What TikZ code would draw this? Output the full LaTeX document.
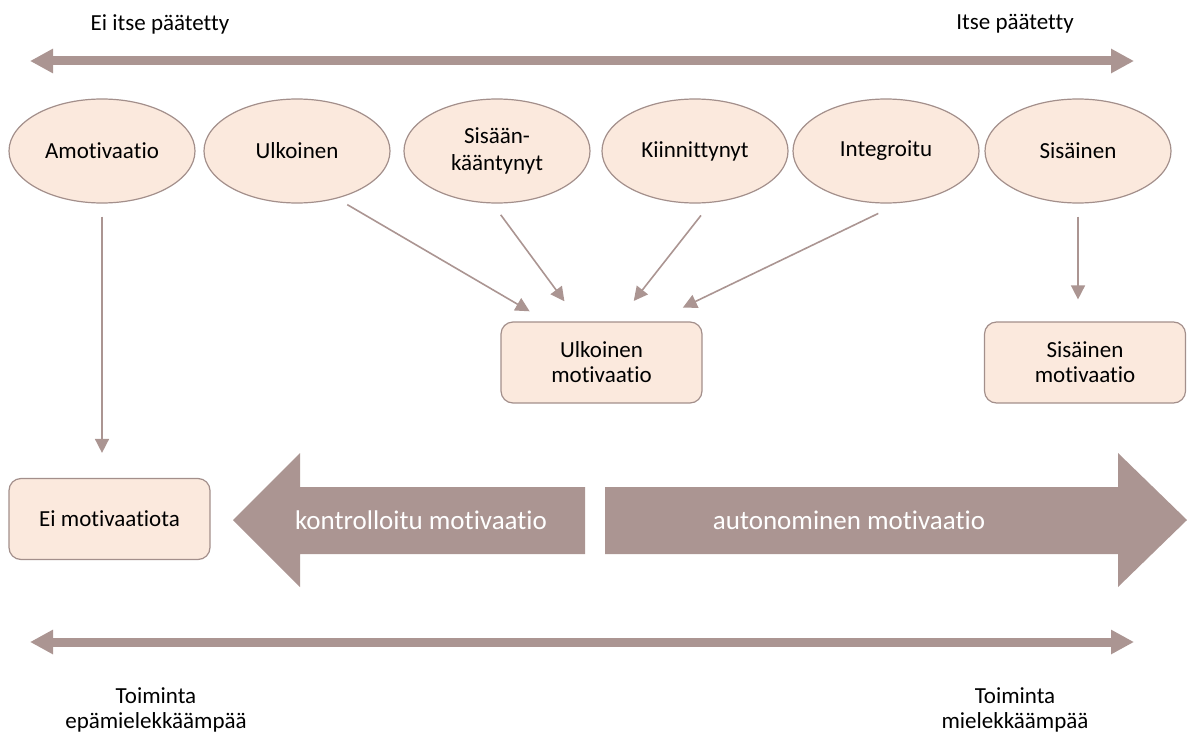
\documentclass[tikz,border=0pt]{standalone}
\usepackage{fontspec}
\setmainfont{Carlito}[RawFeature={-liga;-clig}]
\definecolor{ArrowMauve}{RGB}{171,149,146}
\definecolor{NodePeach} {RGB}{251,233,221}
\definecolor{NodeEdge}  {RGB}{163,143,139}
\usetikzlibrary{arrows.meta,positioning,calc,shapes.geometric}

\begin{document}
\begin{tikzpicture}[x=0.5pt,y=-0.5pt,
    stage/.style={ellipse,draw=NodeEdge,fill=NodePeach,line width=0.6pt,
      minimum width=93pt,minimum height=52pt,inner sep=0pt,align=center,
      font=\fontsize{11.5}{13.5}\selectfont},
    result/.style={rectangle,rounded corners=6pt,draw=NodeEdge,fill=NodePeach,
      line width=0.6pt,minimum width=100.5pt,minimum height=40.5pt,
      align=center,font=\fontsize{11.5}{12.5}\selectfont},
    link/.style={-{Triangle[length=7pt,width=7pt]},ArrowMauve,line width=0.8pt},
    scalearrow/.style={{Triangle[length=11.5pt,width=11.5pt]}-{Triangle[length=11.5pt,width=11.5pt]},
      ArrowMauve,line width=4.5pt},
    endtext/.style={align=center,font=\fontsize{11.5}{12.5}\selectfont},
    bigtext/.style={text=white,font=\fontsize{13.5}{15}\selectfont}]
  \useasboundingbox (0,0) rectangle (1187,738);
  %% Top scale
  \node[endtext] (notself) at (160,24) {Ei itse päätetty};
  \node[endtext] (self) at (1015,24) {Itse päätetty};
  \coordinate (top-l) at (30,61);
  \coordinate (top-r) at (1134,61);
  \draw[scalearrow] (top-l) -- (top-r);
  %% Regulation types
  \node[stage] (amo) at (102,151) {Amotivaatio};
  \node[stage] (ulk) at (297,151) {Ulkoinen};
  \node[stage] (sis) at (497,151) {Sisään-\\kääntynyt};
  \node[stage] (kii) at (695,151) {Kiinnittynyt};
  \node[stage] (int) at (886,151) {Integroitu};
  \node[stage] (sisa) at (1078,151) {Sisäinen};
  %% Motivation boxes
  \node[result] (ulkmot) at (601.5,362.5) {Ulkoinen\\motivaatio};
  \node[result] (sismot) at (1085,362.5) {Sisäinen\\motivaatio};
  \node[result] (eimot) at (109.5,519) {Ei motivaatiota};
  %% Connectors
  \draw[link,shorten <=6.5pt,shorten >=12.5pt] (amo.south) -- (amo.south |- eimot.north);
  \draw[link,shorten <=6pt,shorten >=10pt] (ulk.-50)
       -- ($(ulkmot.north west)!0.23!(ulkmot.north east)$);
  \draw[link,shorten <=7pt,shorten >=12.5pt] (sis.-95)
       -- ($(ulkmot.north west)!0.39!(ulkmot.north east)$);
  \draw[link,shorten <=8pt,shorten >=13pt] (kii.-73)
       -- ($(ulkmot.north west)!0.58!(ulkmot.north east)$);
  \draw[link,shorten <=12pt,shorten >=16pt] (int.-75)
       -- ($(ulkmot.north west)!0.76!(ulkmot.north east)$);
  \draw[link,shorten <=6.5pt,shorten >=11pt] (sisa.south) -- (sisa.south |- sismot.north);
  %% Block arrows
  \fill[ArrowMauve] (585,487) -- (300,487) -- (300,453) -- (233,520)
       -- (300,587) -- (300,554) -- (585,554) -- cycle;
  \fill[ArrowMauve] (605,487) -- (1118,487) -- (1118,453) -- (1187,520)
       -- (1118,587) -- (1118,554) -- (605,554) -- cycle;
  \node[bigtext] (ctrl) at (421,520) {kontrolloitu motivaatio};
  \node[bigtext] (auto) at (849,520) {autonominen motivaatio};
  %% Bottom scale
  \coordinate (bot-l) at (30,642);
  \coordinate (bot-r) at (1134,642);
  \draw[scalearrow] (bot-l) -- (bot-r);
  \node[endtext] (less) at (156,710) {Toiminta\\epämielekkäämpää};
  \node[endtext] (more) at (1015,710) {Toiminta\\mielekkäämpää};
\end{tikzpicture}
\end{document}
